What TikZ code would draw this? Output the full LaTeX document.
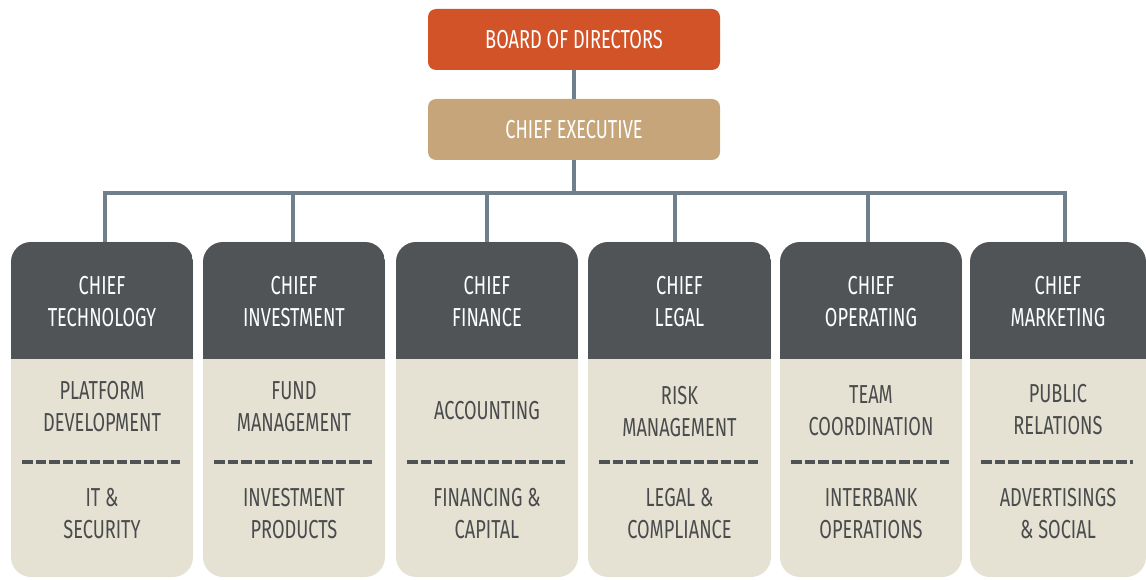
\documentclass[tikz,border=0pt]{standalone}
\usepackage{fontspec}
\newfontfamily\cond[FakeStretch=0.7]{Fira Sans}
\definecolor{boardcol}{HTML}{D35328}
\definecolor{ceocol}{HTML}{C5A579}
\definecolor{headcol}{HTML}{505457}
\definecolor{bodycol}{HTML}{E5E2D4}
\definecolor{linecol}{HTML}{6F7F8C}
\definecolor{bodytext}{HTML}{4A4B4C}
\definecolor{dashcol}{HTML}{505356}
\tikzset{
  conn/.style={draw=linecol, line width=4pt},
  topbox/.style={rounded corners=8pt, minimum width=292pt, minimum height=61pt, inner sep=0pt,
    text=white, font=\cond\fontsize{26}{32}\selectfont},
  colbox/.style={fill=bodycol, rounded corners=20pt, inner sep=0pt, minimum height=335pt,
    path picture={\fill[headcol, sharp corners] (path picture bounding box.north west) rectangle ([yshift=-117pt]path picture bounding box.north east);}},
  headtxt/.style={text=white, align=center, inner sep=0pt, font=\cond\fontsize{26}{32}\selectfont},
  bodytxt/.style={text=bodytext, align=center, inner sep=0pt, font=\cond\fontsize{26}{32}\selectfont},
  sep/.style={draw=dashcol, line width=3.5pt, dash pattern=on 10.5pt off 3pt},
}
\newcommand\orgcol[7]{%
  % #1 name, #2 left, #3 right, #4 header, #5 upper, #6 lower, #7 upper y
  \node[colbox, minimum width={#3-#2}] (#1) at ({(#2+#3)/2},409.5) {};
  \node[headtxt] (#1h) at ({(#2+#3)/2},302) {#4};
  \node[bodytxt] (#1u) at ({(#2+#3)/2},#7) {#5};
  \node[bodytxt] (#1l) at ({(#2+#3)/2},514) {#6};
  \coordinate (#1a) at ({#2+11},462);
  \coordinate (#1b) at ({#3-13},462);
  \draw[sep] (#1a) -- (#1b);
}
\begin{document}
\begin{tikzpicture}[x=1pt,y=-1pt]
\useasboundingbox (0,0) rectangle (1146,580);
\node[topbox, fill=boardcol] (board) at (574,39.5) {BOARD OF DIRECTORS};
\node[topbox, fill=ceocol] (ceo) at (574,129.5) {CHIEF EXECUTIVE};
\orgcol{c1}{11}{193}{CHIEF\\TECHNOLOGY}{PLATFORM\\DEVELOPMENT}{IT \&\\SECURITY}{407}
\orgcol{c2}{203}{385}{CHIEF\\INVESTMENT}{FUND\\MANAGEMENT}{INVESTMENT\\PRODUCTS}{407}
\orgcol{c3}{396}{578}{CHIEF\\FINANCE}{ACCOUNTING}{FINANCING \&\\CAPITAL}{411}
\orgcol{c4}{588}{771}{CHIEF\\LEGAL}{RISK\\MANAGEMENT}{LEGAL \&\\COMPLIANCE}{412}
\orgcol{c5}{780}{962}{CHIEF\\OPERATING}{TEAM\\COORDINATION}{INTERBANK\\OPERATIONS}{411}
\orgcol{c6}{970}{1146}{CHIEF\\MARKETING}{PUBLIC\\RELATIONS}{ADVERTISINGS\\\& SOCIAL}{410}
\coordinate (v1) at (105,193);
\coordinate (v2) at (293,193);
\coordinate (v3) at (487,193);
\coordinate (v4) at (675,193);
\coordinate (v5) at (868,193);
\coordinate (v6) at (1065,193);
\coordinate (trunk) at (574,193);
\draw[conn] (board.south) -- (ceo.north);
\draw[conn] (ceo.south) -- (trunk);
\draw[conn] (c1.north -| v1) -- (v1) -- (v6) -- (c6.north -| v6);
\draw[conn] (v2) -- (c2.north -| v2);
\draw[conn] (v3) -- (c3.north -| v3);
\draw[conn] (v4) -- (c4.north -| v4);
\draw[conn] (v5) -- (c5.north -| v5);
\end{tikzpicture}
\end{document}
